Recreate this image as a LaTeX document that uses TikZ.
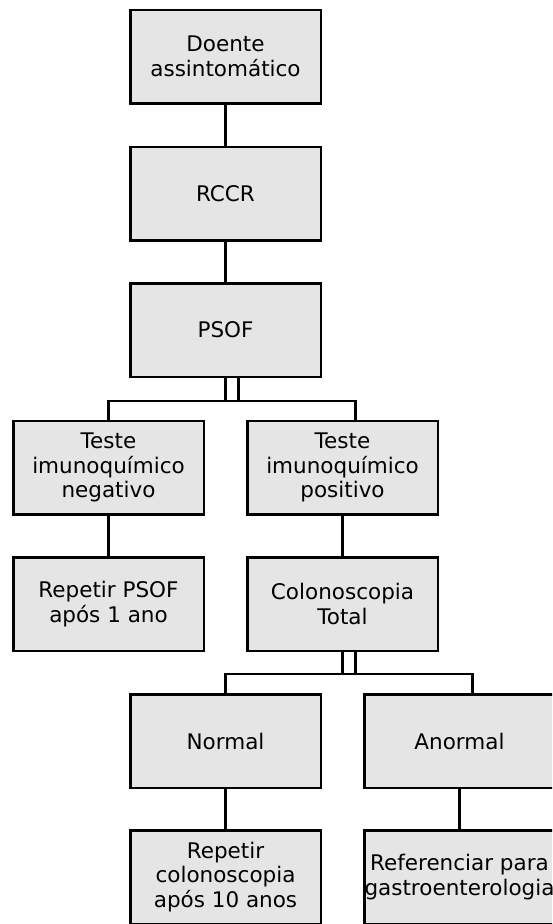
\documentclass[tikz,border=0pt]{standalone}
\usepackage{fontspec}
\setmainfont{DejaVu Sans}
\definecolor{cinza}{HTML}{E5E5E5}
\begin{document}
\begin{tikzpicture}[x=1pt,y=-1pt,
  caixa/.style={draw, line width=2.5pt, fill=cinza, minimum width=190.5pt,
    minimum height=93.5pt, inner sep=0pt, align=center,
    font=\fontsize{21.5}{24.5}\selectfont},
  liga/.style={line width=2.5pt}]
\clip (0,0) rectangle (552,924);

\node[caixa] (doente) at (225.5,56.5) {Doente\\assintomático};
\node[caixa] (rccr) at (225.5,193.5) {RCCR};
\node[caixa] (psof) at (225.5,330) {PSOF};

\node[caixa] (neg) at (108.5,467.5) {Teste\\imunoquímico\\negativo};
\node[caixa] (pos) at (342.5,467.5) {Teste\\imunoquímico\\positivo};

\node[caixa] (repetir) at (108.5,604) {Repetir PSOF\\após 1 ano};
\node[caixa] (colono) at (342.5,604) {Colonoscopia\\Total};

\node[caixa] (normal) at (225.5,741) {Normal};
\node[caixa] (anormal) at (459.5,741) {Anormal};

\node[caixa] (repcol) at (225.5,877) {Repetir\\colonoscopia\\após 10 anos};
\node[caixa] (refer) at (459.5,877) {Referenciar para\\gastroenterologia};

\draw[liga] (doente) -- (rccr);
\draw[liga] (rccr) -- (psof);

% ramos duplos
\draw[liga] ([xshift=13pt]psof.south) -- ++(0,23) -| (neg.north);
\draw[liga] (psof.south) -- ++(0,23) -| ([xshift=13pt]pos.north);

\draw[liga] (neg) -- (repetir);
\draw[liga] (pos) -- (colono);

\draw[liga] ([xshift=13pt]colono.south) -- ++(0,22) -| (normal.north);
\draw[liga] (colono.south) -- ++(0,22) -| ([xshift=13pt]anormal.north);

\draw[liga] (normal) -- (repcol);
\draw[liga] (anormal) -- (refer);
\end{tikzpicture}
\end{document}
